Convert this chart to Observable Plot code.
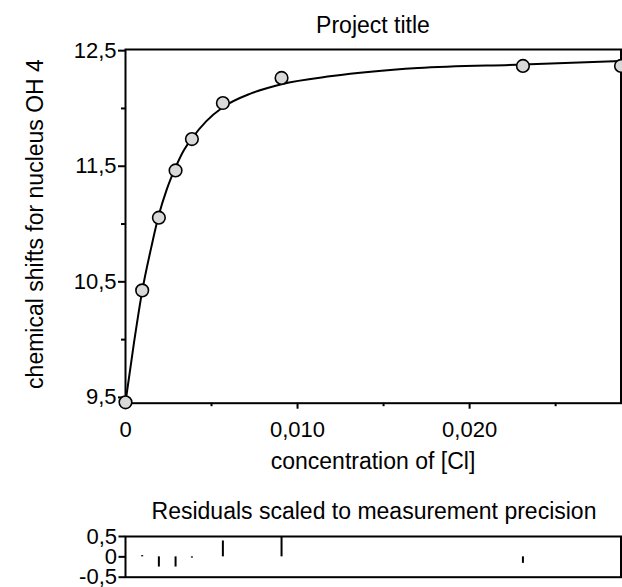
<!DOCTYPE html>
<html>
<head>
<meta charset="utf-8">
<script src="https://cdn.jsdelivr.net/npm/d3@7"></script>
<script src="https://cdn.jsdelivr.net/npm/@observablehq/plot@0.6"></script>
<style>
  html, body { margin: 0; padding: 0; background: #fff; }
  #wrap { position: relative; width: 622px; height: 587px; overflow: hidden; font-family: "Liberation Sans", Arial, sans-serif; color: #000; }
  .lbl { position: absolute; font-size: 23px; line-height: 23px; white-space: nowrap; transform: translateX(-50%); }
  #ylab { position: absolute; font-size: 23px; line-height: 23px; white-space: nowrap; transform: translate(-50%, -50%) rotate(-90deg); }
  .abs { position: absolute; left: 0; }
</style>
</head>
<body>
<div id="wrap"></div>
<script>
// ---- data ----
const concentration = [0, 0.00097, 0.00194, 0.00291, 0.00386, 0.00566, 0.00907, 0.0231, 0.0288];
const shiftOH4      = [9.458, 10.426, 11.055, 11.464, 11.735, 12.047, 12.264, 12.368, 12.368];
const residuals     = [0, 0.03, -0.25, -0.25, -0.03, 0.39, 0.5, -0.16, -0.45];

const fitConc  = [0, 0.0005, 0.00097, 0.0015, 0.00194, 0.0024, 0.00291, 0.0034, 0.00386, 0.0047, 0.00566, 0.0073, 0.00907, 0.012, 0.017, 0.0231, 0.0288];
const fitShift = [9.458, 9.98, 10.42, 10.80, 11.08, 11.30, 11.49, 11.64, 11.74, 11.89, 12.01, 12.13, 12.21, 12.28, 12.35, 12.38, 12.41];

const xMajorTicks = [0, 0.01, 0.02];
const xMajorLabels = ["0", "0,010", "0,020"];
const xMinorTicks = [0.005, 0.015, 0.025];
const yMajorTicks = [9.5, 10.5, 11.5, 12.5];
const yMajorLabels = ["9,5", "10,5", "11,5", "12,5"];
const yMinorTicks = [10, 11, 12];
const rTicks = [0.5, 0, -0.5];
const rLabels = ["0,5", "0", "-0,5"];

const titleText = "Project title";
const xLabelText = "concentration of [Cl]";
const yLabelText = "chemical shifts for nucleus OH 4";
const resTitleText = "Residuals scaled to measurement precision";

// ---- tables ----
const points = concentration.map((c, i) => ({c, s: shiftOH4[i], r: residuals[i]}));
const fit = fitConc.map((c, i) => ({c, s: fitShift[i]}));

const font = '"Liberation Sans", Arial, sans-serif';
const baseStyle = {fontFamily: font, fontSize: "22px", color: "black", background: "transparent", overflow: "visible"};

const main = Plot.plot({
  width: 622, height: 480,
  marginLeft: 125, marginRight: 1.5, marginTop: 49, marginBottom: 77.3,
  style: baseStyle,
  x: {domain: [0, 0.0288]},
  y: {domain: [9.45, 12.51]},
  marks: [
    Plot.axisX({ticks: xMajorTicks, tickFormat: (d, i) => xMajorLabels[i], tickSize: 6, tickPadding: 12, strokeWidth: 2, label: null, fontSize: 22}),
    Plot.axisX({ticks: xMinorTicks, tickFormat: () => "", tickSize: 3.5, strokeWidth: 2, label: null}),
    Plot.axisY({ticks: yMajorTicks, tickFormat: (d, i) => yMajorLabels[i], tickSize: 7, tickPadding: 2, strokeWidth: 2, label: null, fontSize: 22}),
    Plot.axisY({ticks: yMinorTicks, tickFormat: () => "", tickSize: 4, strokeWidth: 2, label: null}),
    Plot.frame({stroke: "black", strokeWidth: 2}),
    Plot.line(fit, {x: "c", y: "s", curve: "monotone-x", stroke: "black", strokeWidth: 2}),
    Plot.dot(points, {x: "c", y: "s", r: 6.3, fill: "#d9d9d9", stroke: "black", strokeWidth: 1.6})
  ]
});

const res = Plot.plot({
  width: 622, height: 77,
  marginLeft: 125, marginRight: 1.5, marginTop: 26, marginBottom: 10.3,
  style: baseStyle,
  x: {domain: [0, 0.0288], axis: null},
  y: {domain: [-0.5, 0.5]},
  marks: [
    Plot.axisY({ticks: rTicks, tickFormat: (d, i) => rLabels[i], tickSize: 6.5, tickPadding: 2, strokeWidth: 2, label: null, fontSize: 22}),
    Plot.frame({stroke: "black", strokeWidth: 2}),
    Plot.ruleX(points, {x: "c", y1: 0, y2: "r", stroke: "black", strokeWidth: 2})
  ]
});

const wrap = document.getElementById("wrap");
main.classList.add("abs"); main.style.top = "0px";
res.classList.add("abs"); res.style.top = "510px";
wrap.appendChild(main);
wrap.appendChild(res);

function addLabel(text, cx, baseline) {
  const d = document.createElement("div");
  d.className = "lbl";
  d.textContent = text;
  d.style.left = cx + "px";
  d.style.top = (baseline - 19.5) + "px";
  wrap.appendChild(d);
}
addLabel(titleText, 373, 33);
addLabel(xLabelText, 373, 469);
addLabel(resTitleText, 374, 519);

const yl = document.createElement("div");
yl.id = "ylab";
yl.textContent = yLabelText;
yl.style.left = "35px";
yl.style.top = "224px";
wrap.appendChild(yl);
</script>
</body>
</html>
